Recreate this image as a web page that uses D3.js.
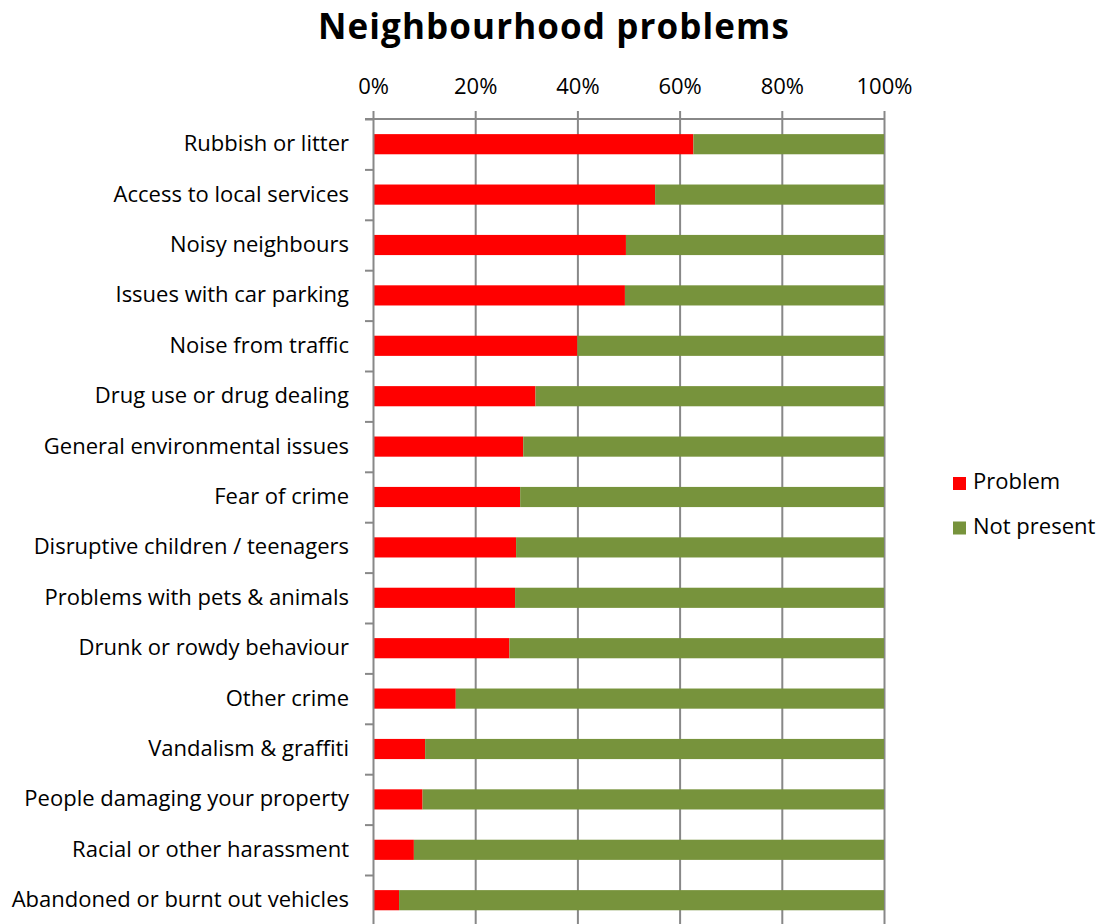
<!DOCTYPE html>
<html>
<head>
<meta charset="utf-8">
<script src="https://cdn.jsdelivr.net/npm/d3@7"></script>
<style>
  html, body { margin: 0; padding: 0; background: #fff; }
  svg { display: block; font-family: "Open Sans", sans-serif; }
</style>
</head>
<body>
<svg id="chart" width="1101" height="924"></svg>
<script>
// Survey categories, top to bottom
const categories = [
  "Rubbish or litter",
  "Access to local services",
  "Noisy neighbours",
  "Issues with car parking",
  "Noise from traffic",
  "Drug use or drug dealing",
  "General environmental issues",
  "Fear of crime",
  "Disruptive children / teenagers",
  "Problems with pets & animals",
  "Drunk or rowdy behaviour",
  "Other crime",
  "Vandalism & graffiti",
  "People damaging your property",
  "Racial or other harassment",
  "Abandoned or burnt out vehicles"
];

// Share of respondents reporting each issue (%)
const problem = [62.7, 55.2, 49.5, 49.3, 40.0, 31.8, 29.4, 28.8, 28.0, 27.8, 26.7, 16.2, 10.2, 9.7, 8.0, 5.1];
// Share reporting the issue as not present (%)
const notPresent = problem.map(v => +(100 - v).toFixed(1));

const seriesNames = ["Problem", "Not present"];
const seriesColors = ["#FF0000", "#77933C"];
const tickValues = [0, 20, 40, 60, 80, 100];

const svg = d3.select("#chart");

const plotLeft = 373, plotRight = 884, plotTop = 119, bandStep = 50.4;
const plotBottom = plotTop + bandStep * categories.length;

const x = d3.scaleLinear().domain([0, 100]).range([plotLeft, plotRight]);
const y = d3.scaleBand().domain(categories).range([plotTop, plotBottom]).paddingInner(0.6).paddingOuter(0.3);

const rows = categories.map((c, i) => ({ category: c, "Problem": problem[i], "Not present": notPresent[i] }));
const stacked = d3.stack().keys(seriesNames)(rows);

const fontStack = "'Open Sans', sans-serif";
const labelSize = 22;

// Title
svg.append("text")
  .attr("x", 554).attr("y", 39)
  .attr("text-anchor", "middle")
  .attr("font-size", 35).attr("font-weight", "bold")
  .attr("letter-spacing", 1.1)
  .attr("fill", "#000")
  .text("Neighbourhood problems");

// Vertical gridlines
svg.append("g")
  .attr("transform", `translate(0,${plotTop})`)
  .call(d3.axisBottom(x).tickValues(tickValues.slice(1)).tickSize(plotBottom - plotTop).tickFormat(""))
  .call(g => g.select(".domain").remove())
  .call(g => g.selectAll("line").attr("stroke", "#888").attr("stroke-width", 2));

// Top value axis
svg.append("g")
  .attr("transform", `translate(0,${plotTop})`)
  .call(d3.axisTop(x).tickValues(tickValues).tickSize(8).tickSizeOuter(0).tickPadding(17).tickFormat(d => d + "%"))
  .call(g => g.select(".domain").attr("stroke", "#888").attr("stroke-width", 2).attr("d", `M${plotLeft - 8},0H${plotRight}`))
  .call(g => g.selectAll("line").attr("stroke", "#888").attr("stroke-width", 2))
  .call(g => g.selectAll("text").attr("font-size", labelSize).attr("fill", "#000").attr("font-family", fontStack));

// Bars
svg.append("g")
  .selectAll("g")
  .data(stacked)
  .join("g")
  .attr("fill", (d, i) => seriesColors[i])
  .selectAll("rect")
  .data(d => d)
  .join("rect")
  .attr("x", d => x(d[0]))
  .attr("width", d => x(d[1]) - x(d[0]))
  .attr("y", d => y(d.data.category))
  .attr("height", y.bandwidth());

// Category axis: boundary ticks
const yEdge = d3.scaleLinear().domain([0, categories.length]).range([plotTop, plotBottom]);
svg.append("g")
  .attr("transform", `translate(${plotLeft},0)`)
  .call(d3.axisLeft(yEdge).tickValues(d3.range(0, categories.length + 1)).tickSize(8).tickSizeOuter(0).tickFormat(""))
  .call(g => g.select(".domain").attr("stroke", "#888").attr("stroke-width", 2))
  .call(g => g.selectAll("line").attr("stroke", "#888").attr("stroke-width", 2));

// Category labels
svg.append("g")
  .attr("transform", `translate(${plotLeft},0)`)
  .call(d3.axisLeft(y).tickSize(0).tickPadding(24))
  .call(g => g.select(".domain").remove())
  .call(g => g.selectAll("text").attr("font-size", labelSize).attr("fill", "#000").attr("font-family", fontStack));

// Legend
const legend = svg.append("g");
seriesNames.forEach((name, i) => {
  const ly = 477 + i * 44.5;
  legend.append("rect").attr("x", 953).attr("y", ly).attr("width", 13).attr("height", 13).attr("fill", seriesColors[i]);
  legend.append("text").attr("x", 973).attr("y", ly + 12).attr("font-size", labelSize).attr("fill", "#000").text(name);
});
</script>
</body>
</html>
